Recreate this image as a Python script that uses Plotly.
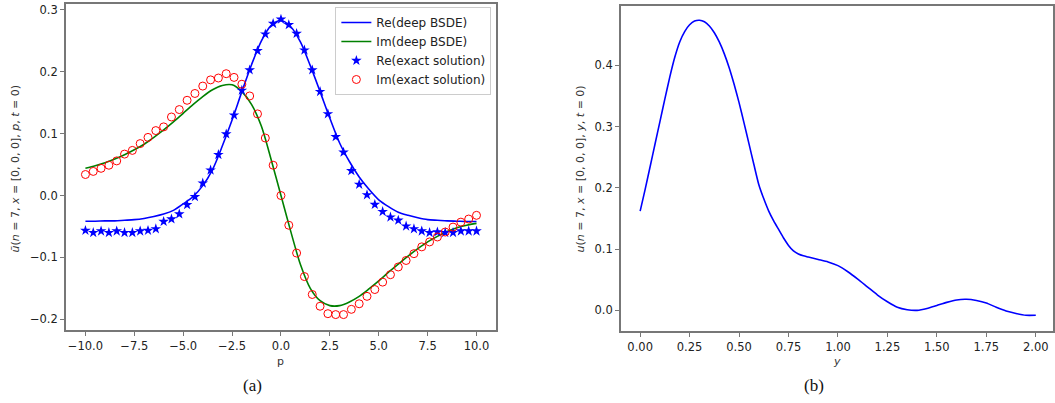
import plotly.graph_objects as go

# ---- data (a) ----
p_exact = [round(-10 + 0.4 * i, 1) for i in range(51)]
re_exact = [-0.0565, -0.060, -0.0575, -0.060, -0.0575, -0.060, -0.060, -0.0575, -0.0565, -0.054,
            -0.042, -0.038, -0.030, -0.015, -0.002, 0.020, 0.041, 0.066, 0.0995, 0.130,
            0.170, 0.203, 0.234, 0.261, 0.278, 0.285, 0.276, 0.262, 0.235, 0.203,
            0.168, 0.132, 0.095, 0.070, 0.040, 0.018, 0.001, -0.0145, -0.026, -0.035,
            -0.040, -0.0495, -0.054, -0.0575, -0.060, -0.059, -0.060, -0.060, -0.0575, -0.0575,
            -0.0575]
im_exact = [0.034, 0.039, 0.044, 0.049, 0.056, 0.067, 0.073, 0.084, 0.094, 0.105,
            0.111, 0.127, 0.139, 0.154, 0.165, 0.177, 0.187, 0.190, 0.197, 0.191,
            0.180, 0.161, 0.132, 0.093, 0.049, 0.0, -0.048, -0.093, -0.131, -0.160,
            -0.179, -0.191, -0.1925, -0.1925, -0.184, -0.175, -0.163, -0.152, -0.140, -0.128,
            -0.1155, -0.105, -0.094, -0.083, -0.075, -0.067, -0.059, -0.051, -0.043, -0.038,
            -0.032]

p_line = [round(-10 + 0.5 * i, 1) for i in range(41)]
re_line = [-0.0415, -0.0415, -0.041, -0.041, -0.040, -0.039, -0.037, -0.034, -0.030, -0.024,
           -0.0135, -0.002, 0.016, 0.042, 0.080, 0.122, 0.168, 0.212, 0.250, 0.275,
           0.283, 0.273, 0.248, 0.210, 0.168, 0.125, 0.085, 0.055, 0.030, 0.010,
           -0.007, -0.018, -0.027, -0.032, -0.036, -0.039, -0.040, -0.041, -0.0415, -0.042,
           -0.042]
im_line = [0.044, 0.048, 0.053, 0.059, 0.066, 0.074, 0.083, 0.094, 0.106, 0.119,
           0.133, 0.147, 0.160, 0.171, 0.178, 0.179, 0.168, 0.147, 0.112, 0.058,
           0.0, -0.058, -0.112, -0.150, -0.170, -0.178, -0.178, -0.172, -0.163, -0.151,
           -0.138, -0.124, -0.111, -0.098, -0.086, -0.075, -0.066, -0.058, -0.052, -0.048,
           -0.045]

# ---- data (b) ----
y_vals = [0.0, 0.025, 0.05, 0.075, 0.1, 0.125, 0.15, 0.175, 0.2, 0.225,
          0.25, 0.275, 0.3, 0.325, 0.35, 0.375, 0.4, 0.425, 0.45, 0.475,
          0.5, 0.525, 0.55, 0.575, 0.6, 0.625, 0.65, 0.675, 0.7, 0.725,
          0.75, 0.775, 0.8, 0.825, 0.85, 0.9, 0.95, 1.0, 1.05, 1.1,
          1.15, 1.2, 1.25, 1.3, 1.35, 1.4, 1.45, 1.5, 1.55, 1.6,
          1.65, 1.7, 1.75, 1.8, 1.85, 1.9, 1.95, 2.0]
u_vals = [0.162, 0.197, 0.234, 0.271, 0.308, 0.345, 0.381, 0.413, 0.438, 0.455,
          0.466, 0.4722, 0.4735, 0.471, 0.464, 0.453, 0.438, 0.419, 0.396, 0.369,
          0.339, 0.306, 0.272, 0.238, 0.205, 0.182, 0.162, 0.146, 0.132, 0.118,
          0.106, 0.097, 0.092, 0.089, 0.087, 0.083, 0.079, 0.073, 0.063, 0.051,
          0.038, 0.025, 0.014, 0.005, 0.001, 0.0, 0.003, 0.008, 0.013, 0.017,
          0.018, 0.016, 0.012, 0.005, -0.001, -0.005, -0.008, -0.008]

W, H = 1055, 403
BLUE, GREEN, RED = "#0000ff", "#008000", "#ff0000"
AX = "#777777"
TICKFONT = dict(family="DejaVu Sans", size=11.5, color="#222222")

fig = go.Figure()
fig.add_trace(go.Scatter(x=p_line, y=re_line, mode="lines", name="Re(deep BSDE)",
                         line=dict(color=BLUE, width=1.6, shape="spline", smoothing=0.8),
                         xaxis="x", yaxis="y"))
fig.add_trace(go.Scatter(x=p_line, y=im_line, mode="lines", name="Im(deep BSDE)",
                         line=dict(color=GREEN, width=1.6, shape="spline", smoothing=0.8),
                         xaxis="x", yaxis="y"))
fig.add_trace(go.Scatter(x=p_exact, y=re_exact, mode="markers", name="Re(exact solution)",
                         marker=dict(symbol="star", size=8, color=BLUE, line=dict(width=0)),
                         xaxis="x", yaxis="y"))
fig.add_trace(go.Scatter(x=p_exact, y=im_exact, mode="markers", name="Im(exact solution)",
                         marker=dict(symbol="circle-open", size=8, color=RED, line=dict(width=1)),
                         xaxis="x", yaxis="y"))
fig.add_trace(go.Scatter(x=y_vals, y=u_vals, mode="lines", showlegend=False,
                         line=dict(color=BLUE, width=1.6, shape="spline", smoothing=0.6),
                         xaxis="x2", yaxis="y2"))

axis_common = dict(showgrid=False, zeroline=False, showline=True, linecolor=AX, linewidth=1.5,
                   mirror=True, ticks="outside", ticklen=4, tickcolor=AX, tickwidth=1,
                   tickfont=TICKFONT, ticklabeloverflow="allow")

fig.update_layout(
    width=W, height=H, margin=dict(l=0, r=0, t=0, b=0),
    paper_bgcolor="white", plot_bgcolor="white",
    xaxis=dict(domain=[66 / W, 497 / W], range=[-11, 11], tickvals=[-10, -7.5, -5, -2.5, 0, 2.5, 5, 7.5, 10],
               tickformat=".1f", anchor="y", **axis_common),
    yaxis=dict(domain=[1 - 330 / H, 1 - 3 / H], range=[-0.2177, 0.3097],
               tickvals=[-0.2, -0.1, 0.0, 0.1, 0.2, 0.3], tickformat=".1f", anchor="x", **axis_common),
    xaxis2=dict(domain=[622 / W, 1.0], range=[-0.0977, 2.087],
                tickvals=[0, 0.25, 0.5, 0.75, 1.0, 1.25, 1.5, 1.75, 2.0], tickformat=".2f",
                anchor="y2", **axis_common),
    yaxis2=dict(domain=[1 - 331 / H, 1 - 5 / H], range=[-0.034, 0.4967],
                tickvals=[0.0, 0.1, 0.2, 0.3, 0.4], tickformat=".1f", anchor="x2", **axis_common),
    legend=dict(x=336 / W, y=1 - 6 / H, xanchor="left", yanchor="top",
                bgcolor="rgba(255,255,255,0.9)", bordercolor="#cccccc", borderwidth=1,
                font=dict(family="DejaVu Sans", size=12, color="#222222"),
                itemwidth=30, tracegroupgap=0),
    showlegend=True,
    hovermode=False,
)

LBL = dict(family="DejaVu Sans", size=11, color="#333333")
SERIF = dict(family="Liberation Serif", size=17, color="#111111")
annos = [
    dict(x=281 / W, y=1 - 361 / H, text="p"),
    dict(x=839 / W, y=1 - 361 / H, text="<i>y</i>"),
    dict(x=253 / W, y=1 - 385 / H, text="(a)", font=SERIF),
    dict(x=816 / W, y=1 - 385 / H, text="(b)", font=SERIF),
    dict(x=16 / W, y=1 - 168 / H, textangle=-90,
         text="<i>ũ</i>(<i>n</i> = 7, <i>x</i> = [0, 0, 0], <i>p</i>, <i>t</i> = 0)"),
    dict(x=582 / W, y=1 - 168 / H, textangle=-90,
         text="<i>u</i>(<i>n</i> = 7, <i>x</i> = [0, 0, 0], <i>y</i>, <i>t</i> = 0)"),
]
for a in annos:
    a.setdefault("font", LBL)
    fig.add_annotation(xref="paper", yref="paper", showarrow=False, xanchor="center", yanchor="middle", **a)

fig.write_html("out.html", config={"displayModeBar": False},
               post_script="document.body.style.margin='0';document.body.style.overflow='hidden';")
